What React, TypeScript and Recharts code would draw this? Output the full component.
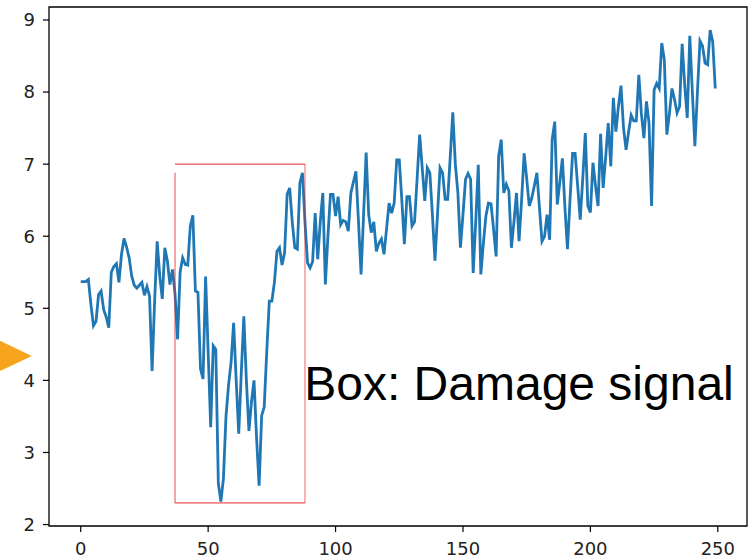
import React from 'react';
import {LineChart, Line, XAxis, YAxis, ReferenceArea, ReferenceLine, ReferenceDot} from 'recharts';

// sensor reading per sample (sample index = position in the array)
const signal = [
    5.37, 5.37, 5.37, 5.40, 5.05, 4.76, 4.82, 5.19, 5.24, 4.98,
    4.88, 4.73, 5.50, 5.58, 5.62, 5.36, 5.75, 5.97, 5.85, 5.70,
    5.45, 5.32, 5.28, 5.32, 5.36, 5.18, 5.30, 5.17, 4.13, 5.10,
    5.93, 5.45, 5.13, 5.84, 5.66, 5.33, 5.54, 5.20, 4.57, 5.50,
    5.70, 5.61, 5.60, 6.14, 6.29, 5.24, 5.22, 4.16, 4.02, 5.44,
    4.40, 3.35, 4.48, 4.43, 2.57, 2.32, 2.64, 3.50, 3.93, 4.25,
    4.80, 4.00, 3.26, 4.10, 4.89, 4.00, 3.30, 3.70, 4.00, 3.20,
    2.54, 3.51, 3.63, 4.40, 5.10, 5.10, 5.36, 5.79, 5.84, 5.60,
    5.77, 6.58, 6.67, 6.20, 5.84, 5.82, 6.74, 6.88, 6.20, 5.63,
    5.56, 5.65, 6.32, 5.68, 6.20, 6.60, 5.33, 6.00, 6.58, 6.58,
    6.28, 6.55, 6.16, 6.22, 6.20, 6.07, 6.60, 6.75, 6.90, 6.20,
    5.47, 6.30, 7.16, 6.30, 6.05, 6.20, 5.79, 5.90, 5.96, 5.75,
    6.10, 6.46, 6.32, 6.46, 7.06, 7.06, 6.50, 5.89, 6.55, 6.55,
    6.14, 6.20, 6.80, 7.41, 6.95, 6.49, 6.95, 6.88, 6.30, 5.66,
    6.30, 6.95, 6.88, 6.51, 6.51, 7.10, 7.72, 7.00, 6.60, 5.84,
    6.30, 6.79, 6.87, 6.79, 5.49, 6.20, 6.99, 5.47, 5.90, 6.28,
    6.46, 6.45, 6.10, 5.72, 7.11, 7.34, 6.60, 6.72, 6.63, 5.84,
    6.20, 6.60, 5.93, 6.50, 7.15, 6.80, 6.42, 6.53, 6.70, 6.88,
    6.40, 5.93, 6.00, 6.30, 5.95, 7.34, 7.59, 6.44, 6.75, 7.08,
    6.40, 5.82, 6.50, 7.15, 7.15, 6.70, 6.23, 6.80, 7.43, 6.42,
    6.33, 7.02, 6.70, 6.42, 7.42, 6.67, 7.10, 7.57, 6.97, 7.92,
    7.45, 7.80, 8.09, 7.50, 7.20, 7.45, 7.68, 7.60, 7.60, 8.24,
    7.70, 7.36, 7.87, 7.57, 6.42, 8.03, 8.12, 8.05, 8.68, 8.45,
    7.41, 7.70, 8.05, 7.90, 7.71, 7.80, 8.67, 8.10, 7.64, 8.78,
    8.00, 7.25, 8.00, 8.71, 8.64, 8.40, 8.38, 8.86, 8.70, 8.05,
];

const xTicks = [0, 50, 100, 150, 200, 250];
const yTicks = [2, 3, 4, 5, 6, 7, 8, 9];

// damage window (sample range and value range) and its caption
const boxX = [37, 88];
const boxY = [2.3, 7.0];
const boxLeftTop = 6.88;
const caption = 'Box: Damage signal';
const captionAt = {x: 87.7, y: 3.73};
const markerAt = {x: -19.2, y: 4.34};

const X_DOMAIN: [number, number] = [-12.45, 261.45];
const Y_DOMAIN: [number, number] = [1.98, 9.18];

const rows = signal.map((v, i) => ({i, v}));

const tickStyle = {fontFamily: 'DejaVu Sans', fontSize: 18, fill: '#222'};
const RED = '#e8252b';

const Caption = (props) => {
    const {viewBox} = props;
    return (
        <text x={viewBox.x} y={viewBox.y} fontFamily="Liberation Sans, Arial" fontSize={48} fill="#000">
            {caption}
        </text>
    );
};

const Triangle = (props) => {
    const {cx, cy} = props;
    return <polygon points={`${cx},${cy} ${cx - 42},${cy - 20} ${cx - 42},${cy + 20}`} fill="#f6a41c"/>;
};

export default function App() {
    return (
        <div style={{position: 'absolute', left: 0, top: 0, background: '#fff'}}>
            <LineChart width={753} height={558} data={rows} margin={{top: 7, right: 6, bottom: 0, left: 0}}>
                <XAxis
                    dataKey="i"
                    type="number"
                    domain={X_DOMAIN}
                    ticks={xTicks}
                    allowDataOverflow
                    height={32}
                    axisLine={false}
                    tickLine={{stroke: '#000', strokeWidth: 1.2}}
                    tickSize={6}
                    tickMargin={10}
                    tick={tickStyle}
                />
                <YAxis
                    type="number"
                    domain={Y_DOMAIN}
                    ticks={yTicks}
                    allowDataOverflow
                    width={49}
                    axisLine={false}
                    tickLine={{stroke: '#000', strokeWidth: 1.2}}
                    tickSize={6}
                    tickMargin={8}
                    tick={tickStyle}
                />
                <ReferenceArea x1={X_DOMAIN[0]} x2={X_DOMAIN[1]} y1={Y_DOMAIN[0]} y2={Y_DOMAIN[1]}
                               fill="none" stroke="#000" strokeWidth={1.3}/>
                <Line type="linear" dataKey="v" stroke="#1f77b4" strokeWidth={2.8} dot={false}
                      isAnimationActive={false}/>
                <ReferenceLine segment={[{x: boxX[0], y: boxY[1]}, {x: boxX[1], y: boxY[1]}]} stroke={RED} strokeWidth={1}/>
                <ReferenceLine segment={[{x: boxX[1], y: boxY[0]}, {x: boxX[1], y: boxY[1]}]} stroke={RED} strokeWidth={1} strokeOpacity={0.7}/>
                <ReferenceLine segment={[{x: boxX[0], y: boxY[0]}, {x: boxX[1], y: boxY[0]}]} stroke={RED} strokeWidth={1}/>
                <ReferenceLine segment={[{x: boxX[0], y: boxY[0]}, {x: boxX[0], y: boxLeftTop}]} stroke={RED} strokeWidth={1.5} strokeOpacity={0.55}/>
                <ReferenceDot x={captionAt.x} y={captionAt.y} r={0} ifOverflow="visible" label={<Caption/>}/>
                <ReferenceDot x={markerAt.x} y={markerAt.y} r={1} ifOverflow="visible" shape={<Triangle/>}/>
            </LineChart>
        </div>
    );
}
